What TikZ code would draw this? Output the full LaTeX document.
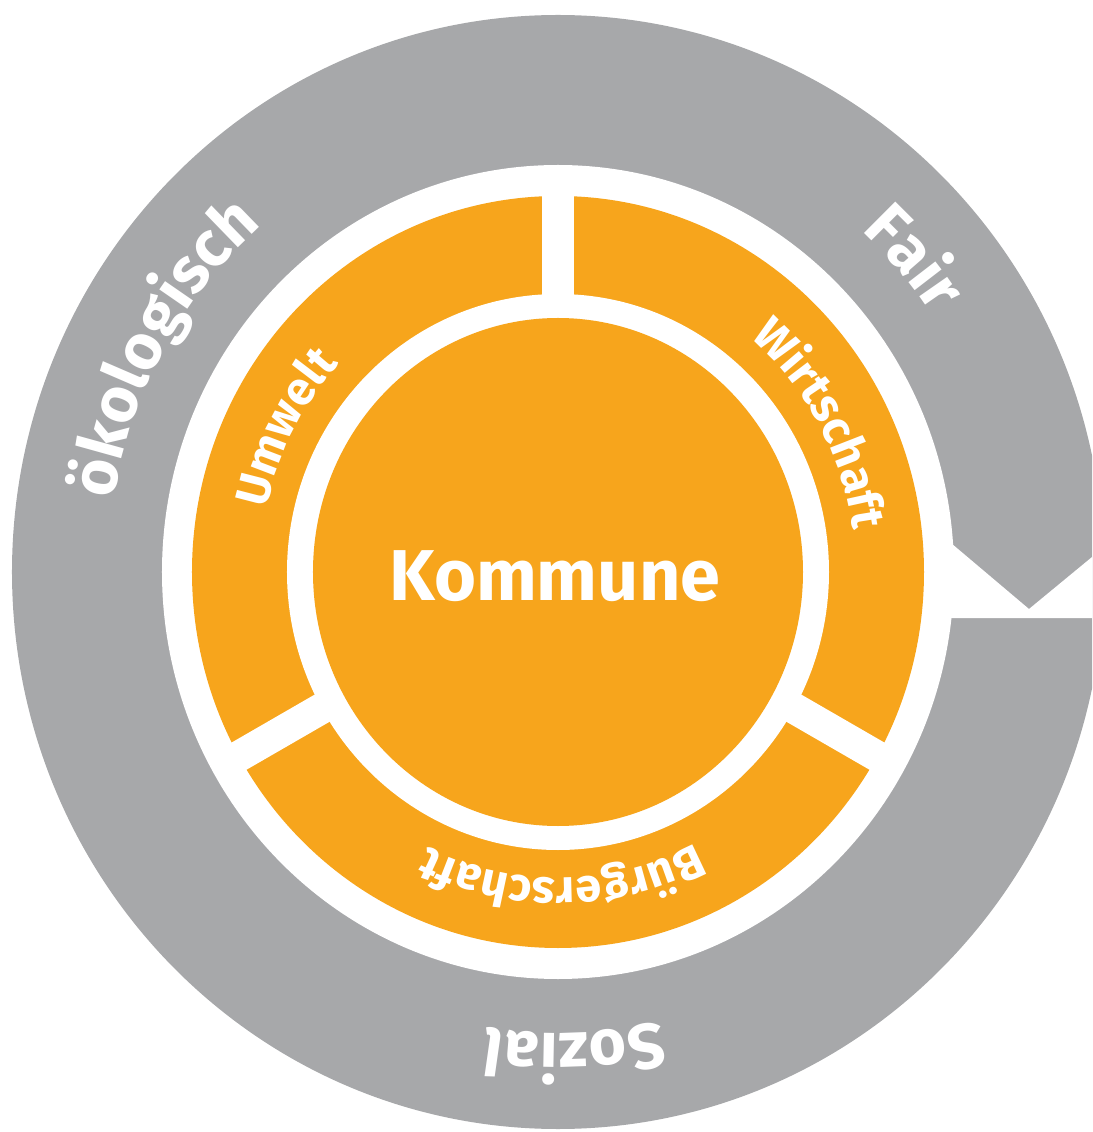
\documentclass[tikz,border=0pt]{standalone}
\usepackage{fontspec}
\setmainfont{Fira Sans}
\usetikzlibrary{decorations.text}
\definecolor{ringgray}{HTML}{A7A8AA}
\definecolor{ringorange}{HTML}{F7A51C}
\newcommand\grtxt{\bfseries\fontsize{64}{64}\selectfont}
\newcommand\ortxt{\bfseries\fontsize{47}{47}\selectfont}
\tikzset{
  arctext/.style={decorate, decoration={text along path, text align=center, text color=white, text={#1}}},
}
\begin{document}
\begin{tikzpicture}[x=1pt,y=1pt]
\useasboundingbox (-558,-560) rectangle (534,572);
\clip (-558,-560) rectangle (534,572);
% outer grey ring
\fill[ringgray] (0,0) ellipse [x radius=546, y radius=557];
\fill[white] (0,0) ellipse [x radius=396, y radius=407];
% notch of the grey ring
\fill[white] (387,34) -- (471,-37) -- (560,36.4) -- (560,-46) -- (387,-46) -- cycle;
% orange ring and disc
\fill[ringorange] (0,0) ellipse [x radius=366, y radius=376];
\fill[white] (0,0) ellipse [x radius=271, y radius=278];
\fill[ringorange] (0,0) ellipse [x radius=245, y radius=254];
% separators
\foreach \a in {90,210,330}
  \fill[white, rotate=\a] (258,-15.5) rectangle (390,15.5);
% centre label
\node[text=white, font=\bfseries\fontsize{72}{72}\selectfont, anchor=base, inner sep=0pt] (kommune) at (-3,-29) {Kommune};
% orange ring labels (baseline radius 298)
\path[arctext={|\ortxt|Umwelt}] ({298*cos(212.2)},{306*sin(212.2)}) arc[start angle=212.2, end angle=92.2, x radius=298, y radius=306];
\path[arctext={|\ortxt|Wirtschaft}] ({298*cos(89.3)},{306*sin(89.3)}) arc[start angle=89.3, end angle=-30.7, x radius=298, y radius=306];
\path[arctext={|\ortxt|Bürgerschaft}] ({298*cos(330.8)},{306*sin(330.8)}) arc[start angle=330.8, end angle=210.8, x radius=298, y radius=306];
% grey ring labels (baseline radius 450)
\path[arctext={|\grtxt|ökologisch}] ({450*cos(210.7)},{461*sin(210.7)}) arc[start angle=210.7, end angle=90.7, x radius=450, y radius=461];
\path[arctext={|\grtxt|Fair}] ({450*cos(101.3)},{461*sin(101.3)}) arc[start angle=101.3, end angle=-18.7, x radius=450, y radius=461];
\path[arctext={|\grtxt|Sozial}] ({450*cos(332)},{461*sin(332)}) arc[start angle=332, end angle=212, x radius=450, y radius=461];
\end{tikzpicture}
\end{document}
